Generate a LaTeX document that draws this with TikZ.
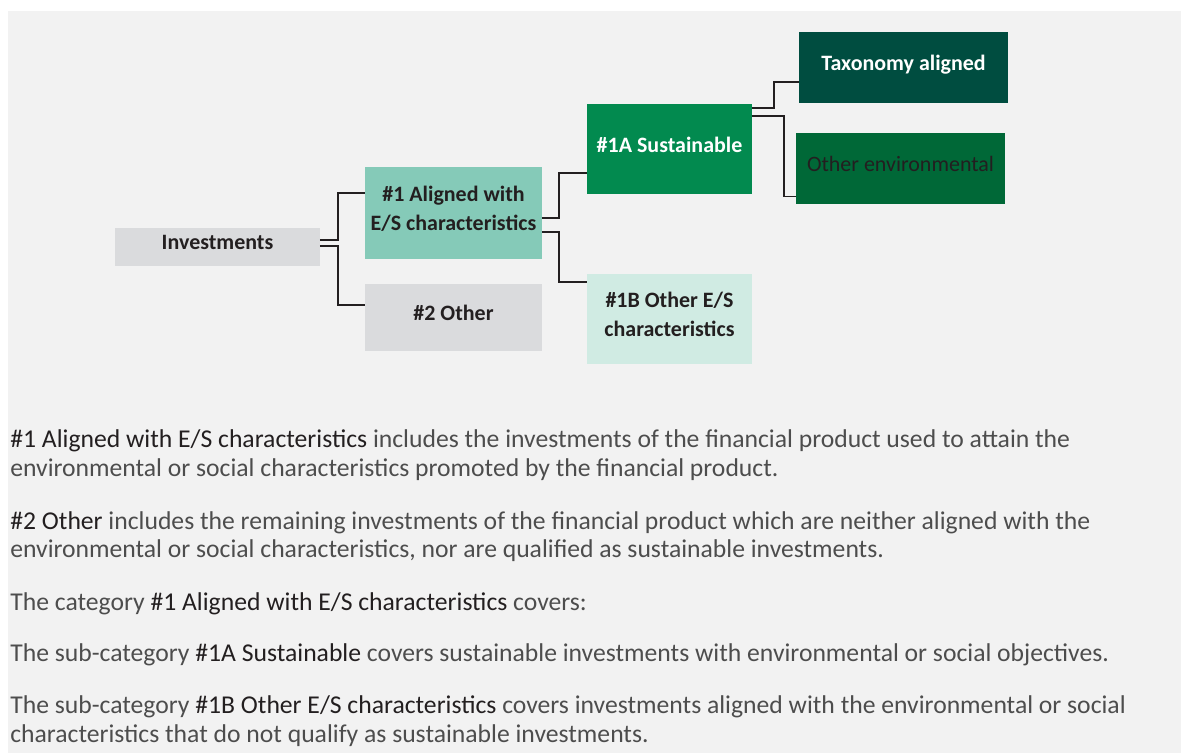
\documentclass[tikz,border=0pt]{standalone}
\usepackage{fontspec}
\setmainfont{Carlito}
\usepackage{xcolor}
\usepackage{tikz}
\usetikzlibrary{positioning,calc}
\definecolor{cPanel}{HTML}{F2F2F2}
\definecolor{cGrey}{HTML}{DADBDD}
\definecolor{cMint}{HTML}{85CAB8}
\definecolor{cPale}{HTML}{D0EBE3}
\definecolor{cGreen}{HTML}{028A4F}
\definecolor{cDeep}{HTML}{004D40}
\definecolor{cForest}{HTML}{006837}
\definecolor{cInk}{HTML}{231F20}
\definecolor{cBody}{HTML}{4D4D4D}
\tikzset{
  cat/.style   = {rectangle, fill=#1, inner sep=0pt, outer sep=0pt, align=center,
                  text=cInk, font=\fontsize{12.5}{16.5}\selectfont\bfseries},
  cat/.default = cGrey,
  link/.style  = {draw=cInk, line width=1.1pt},
  para/.style  = {anchor=base west, inner sep=0pt, text=cBody,
                  font=\fontsize{14.6}{17}\selectfont},
}
\newcommand{\hilite}[1]{{\color{cInk}#1}}
\newcommand{\lift}{\\[-11.5pt]}% nudges box text a little upwards

\begin{document}
\begin{tikzpicture}[x=0.02cm, y=-0.02cm]
  \useasboundingbox (0,0) rectangle (1181,753);
  \fill[cPanel] (8,11) rectangle (1181,753);

  % boxes
  \node[cat, minimum width=4.10cm, minimum height=0.76cm] (inv) at (217.5,247) {Investments\lift};
  \node[cat=cMint, minimum width=3.54cm, minimum height=1.84cm] (al) at (453.5,213) {\#1 Aligned with\\E/S characteristics\lift};
  \node[cat, minimum width=3.54cm, minimum height=1.34cm] (oth) at (453.5,317.5) {\#2 Other\lift};
  \node[cat=cGreen, text=white, minimum width=3.30cm, minimum height=1.80cm] (sus) at (669.5,149) {\#1A Sustainable\lift};
  \node[cat=cPale, minimum width=3.30cm, minimum height=1.80cm] (oes) at (669.5,319) {\#1B Other E/S\\characteristics\lift};
  \node[cat=cDeep, text=white, minimum width=4.18cm, minimum height=1.42cm] (tax) at (903.5,67.5) {Taxonomy aligned\lift};
  \node[cat=cForest, font=\fontsize{12.5}{16.5}\selectfont, minimum width=4.18cm, minimum height=1.42cm] (env) at (900.5,168.5) {Other environmental\lift};

  % connectors
  \draw[link] ($(inv.east)+(0,-7)$) -- ++(18,0) |- ($(al.west)+(0,-20)$);
  \draw[link] ($(inv.east)+(0,-1)$) -- ++(18,0) |- ($(oth.west)+(0,-12.5)$);
  \draw[link] ($(al.east)+(0,5)$) -- ++(17,0) |- ($(sus.west)+(0,24)$);
  \draw[link] ($(al.east)+(0,19)$) -- ++(17,0) |- ($(oes.west)+(0,-37)$);
  \draw[link] ($(sus.east)+(0,-41)$) -- ++(22,0) |- ($(tax.west)+(0,14.5)$);
  \draw[link] ($(sus.east)+(0,-33)$) -- ++(32,0) |- ($(env.west)+(0,28)$);

  % notes
  \node[para] (n1a) at (10,448) {\hilite{\#1 Aligned with E/S characteristics} includes the investments of the financial product used to attain the};
  \node[para] (n1b) at (10,477) {environmental or social characteristics promoted by the financial product.};
  \node[para] (n2a) at (10,529) {\hilite{\#2 Other} includes the remaining investments of the financial product which are neither aligned with the};
  \node[para] (n2b) at (10,558) {environmental or social characteristics, nor are qualified as sustainable investments.};
  \node[para] (n3) at (10,610) {The category \hilite{\#1 Aligned with E/S characteristics} covers:};
  \node[para] (n4) at (10,661) {The sub-category \hilite{\#1A Sustainable} covers sustainable investments with environmental or social objectives.};
  \node[para] (n5a) at (10,713) {The sub-category \hilite{\#1B Other E/S characteristics} covers investments aligned with the environmental or social};
  \node[para] (n5b) at (10,742) {characteristics that do not qualify as sustainable investments.};
\end{tikzpicture}
\end{document}
